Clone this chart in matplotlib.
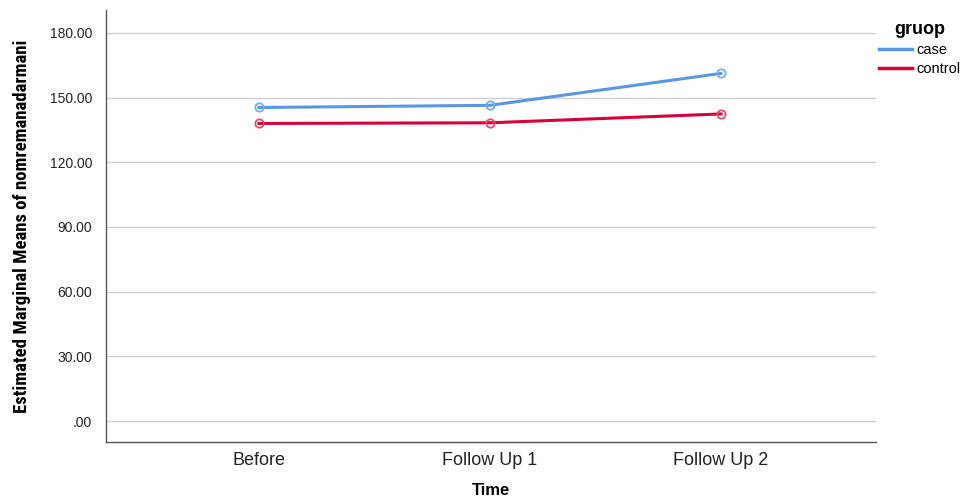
import matplotlib
matplotlib.use("Agg")
import matplotlib.pyplot as plt
from matplotlib import font_manager

categories = ["Before", "Follow Up 1", "Follow Up 2"]
case_vals = [145.4, 146.4, 161.2]
control_vals = [138.0, 138.3, 142.4]
yticks = [0, 30, 60, 90, 120, 150, 180]
ytick_labels = [".00", "30.00", "60.00", "90.00", "120.00", "150.00", "180.00"]

names = {f.name for f in font_manager.fontManager.ttflist}
base = "Liberation Sans" if "Liberation Sans" in names else "DejaVu Sans"
narrow = None
for cand in ["Liberation Sans Narrow", "DejaVu Sans Condensed", "Roboto Condensed", "Open Sans Condensed"]:
    if cand in names:
        narrow = cand
        break
plt.rcParams["font.family"] = [base, "DejaVu Sans"]

fig = plt.figure(figsize=(9.71, 5.0), dpi=100)
ax = fig.add_axes([106/971, 58/500, 770/971, 432/500])

x = list(range(len(categories)))
ax.plot(x, case_vals, color="#5a97e3", lw=2.2, marker="o", ms=6,
        mfc="none", mec="#7aaae8", mew=1.3, label="case", zorder=3)
ax.plot(x, control_vals, color="#d6003a", lw=2.2, marker="o", ms=6,
        mfc="none", mec="#e0506e", mew=1.3, label="control", zorder=3)

ax.set_xlim(-0.662, 2.671)
ax.set_ylim(-9.7, 190.6)
ax.set_yticks(yticks)
ax.set_yticklabels(ytick_labels, fontsize=10, color="#222222")
ax.set_xticks(x)
ax.set_xticklabels(categories, fontsize=13, color="#222222")
ax.tick_params(axis="x", length=0, pad=7)
ax.tick_params(axis="y", length=0, pad=10)
ax.grid(axis="y", color="#cfcfcf", lw=1)
ax.set_axisbelow(True)
for s in ["top", "right"]:
    ax.spines[s].set_visible(False)
for s in ["left", "bottom"]:
    ax.spines[s].set_color("#555555")
    ax.spines[s].set_linewidth(1)

ax.set_xlabel("Time", fontsize=12, fontweight="bold", labelpad=10)
ylab = "Estimated Marginal Means of nomremanadarmani"
if narrow:
    ax.set_ylabel(ylab, fontsize=13.5, fontweight="bold",
                  family=[narrow, "DejaVu Sans"])
else:
    ax.set_ylabel(ylab, fontsize=11.5, fontweight="bold")
ax.yaxis.set_label_coords(-0.098, 0.5)

leg = ax.legend(title="gruop", loc="upper left", bbox_to_anchor=(0.99, 0.998),
                frameon=False, fontsize=10.5, handlelength=2.3, handletextpad=0.3,
                labelspacing=0.35, borderaxespad=0.3)
leg.get_title().set_fontweight("bold")
leg.get_title().set_fontsize(13)
for line in leg.get_lines():
    line.set_marker("")
    line.set_linewidth(2.5)

fig.savefig("out.png", dpi=100)
